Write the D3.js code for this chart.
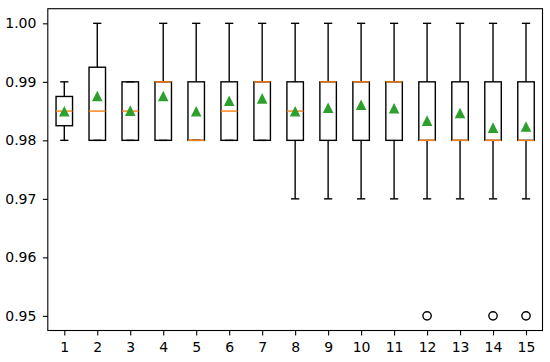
<!DOCTYPE html>
<html>
<head>
<meta charset="utf-8">
<script src="https://cdn.jsdelivr.net/npm/d3@7"></script>
<style>
  body { margin: 0; background: #fff; }
  svg { display: block; }
</style>
</head>
<body>
<svg id="chart" width="550" height="362"></svg>
<script>
// Box statistics, one entry per box (1..15)
const labels   = [1, 2, 3, 4, 5, 6, 7, 8, 9, 10, 11, 12, 13, 14, 15];
const whiskLo  = [0.98, 0.98, 0.98, 0.98, 0.98, 0.98, 0.98, 0.97, 0.97, 0.97, 0.97, 0.97, 0.97, 0.97, 0.97];
const q1       = [0.9825, 0.98, 0.98, 0.98, 0.98, 0.98, 0.98, 0.98, 0.98, 0.98, 0.98, 0.98, 0.98, 0.98, 0.98];
const medians  = [0.985, 0.985, 0.985, 0.99, 0.98, 0.985, 0.99, 0.985, 0.99, 0.99, 0.99, 0.98, 0.98, 0.98, 0.98];
const q3       = [0.9875, 0.9925, 0.99, 0.99, 0.99, 0.99, 0.99, 0.99, 0.99, 0.99, 0.99, 0.99, 0.99, 0.99, 0.99];
const whiskHi  = [0.99, 1.00, 0.99, 1.00, 1.00, 1.00, 1.00, 1.00, 1.00, 1.00, 1.00, 1.00, 1.00, 1.00, 1.00];
const means    = [0.9849, 0.9875, 0.9850, 0.9875, 0.9849, 0.9867, 0.9871, 0.9849, 0.9855, 0.9860, 0.9854, 0.9833, 0.9846, 0.9821, 0.9823];
// outliers as [box, value]
const fliers   = [[12, 0.95], [14, 0.95], [15, 0.95]];
const yTicks   = [0.95, 0.96, 0.97, 0.98, 0.99, 1.00];

const svg = d3.select('#chart');
const plotLeft = 47.8, plotRight = 542.5, plotTop = 8.7, plotBottom = 330.5;

let x = d3.scaleLinear().domain([0.5, 15.5]).range([plotLeft, plotRight]);
let y = d3.scaleLinear().domain([0.9475, 1.0025]).range([plotBottom, plotTop]);

const lw = 1.39;           // 1pt at 100 dpi
const boxHalf = 0.25;      // box width 0.5
const capHalf = 0.125;

let g = svg.append('g');

labels.forEach((k, i) => {
  let cx = x(k);
  let b = g.append('g').attr('fill', 'none').attr('stroke', '#000').attr('stroke-width', lw);
  // whiskers
  b.append('line').attr('x1', cx).attr('x2', cx).attr('y1', y(q1[i])).attr('y2', y(whiskLo[i]));
  b.append('line').attr('x1', cx).attr('x2', cx).attr('y1', y(q3[i])).attr('y2', y(whiskHi[i]));
  // caps
  b.append('line').attr('x1', x(k - capHalf)).attr('x2', x(k + capHalf))
    .attr('y1', y(whiskLo[i])).attr('y2', y(whiskLo[i]));
  b.append('line').attr('x1', x(k - capHalf)).attr('x2', x(k + capHalf))
    .attr('y1', y(whiskHi[i])).attr('y2', y(whiskHi[i]));
  // box
  b.append('rect')
    .attr('x', x(k - boxHalf)).attr('width', x(k + boxHalf) - x(k - boxHalf))
    .attr('y', y(q3[i])).attr('height', y(q1[i]) - y(q3[i]));
  // median
  g.append('line')
    .attr('x1', x(k - boxHalf)).attr('x2', x(k + boxHalf))
    .attr('y1', y(medians[i])).attr('y2', y(medians[i]))
    .attr('stroke', '#ff7f0e').attr('stroke-width', lw);
});

// means as triangles
const tri = 4.17; // half size (6pt marker)
g.selectAll('path.mean')
  .data(labels.map((k, i) => [k, means[i]]))
  .enter().append('path')
  .attr('class', 'mean')
  .attr('d', d => {
    let px = x(d[0]), py = y(d[1]);
    return `M${px},${py - tri}L${px - tri},${py + tri}L${px + tri},${py + tri}Z`;
  })
  .attr('fill', '#2ca02c').attr('stroke', '#2ca02c').attr('stroke-width', lw);

// fliers
g.selectAll('circle.flier')
  .data(fliers)
  .enter().append('circle')
  .attr('class', 'flier')
  .attr('cx', d => x(d[0])).attr('cy', d => y(d[1]))
  .attr('r', 4.17)
  .attr('fill', 'none').attr('stroke', '#000').attr('stroke-width', lw);

// axes
let yAxis = d3.axisLeft(y).tickValues(yTicks).tickFormat(d3.format('.2f'))
  .tickSize(4.9).tickPadding(6.5);
let xAxis = d3.axisBottom(x).tickValues(labels).tickFormat(d3.format('d'))
  .tickSize(4.9).tickPadding(7);

let ya = svg.append('g').attr('transform', `translate(${plotLeft},0)`).call(yAxis);
let xa = svg.append('g').attr('transform', `translate(0,${plotBottom})`).call(xAxis);
[ya, xa].forEach(a => {
  a.select('.domain').remove();
  a.selectAll('.tick line').attr('stroke', '#000').attr('stroke-width', 1.1);
  a.selectAll('.tick text')
    .style('font-family', '"DejaVu Sans", sans-serif')
    .style('font-size', '14px')
    .attr('fill', '#000');
});

// frame
svg.append('rect')
  .attr('x', plotLeft).attr('y', plotTop)
  .attr('width', plotRight - plotLeft).attr('height', plotBottom - plotTop)
  .attr('fill', 'none').attr('stroke', '#000').attr('stroke-width', 1.1);
</script>
</body>
</html>
